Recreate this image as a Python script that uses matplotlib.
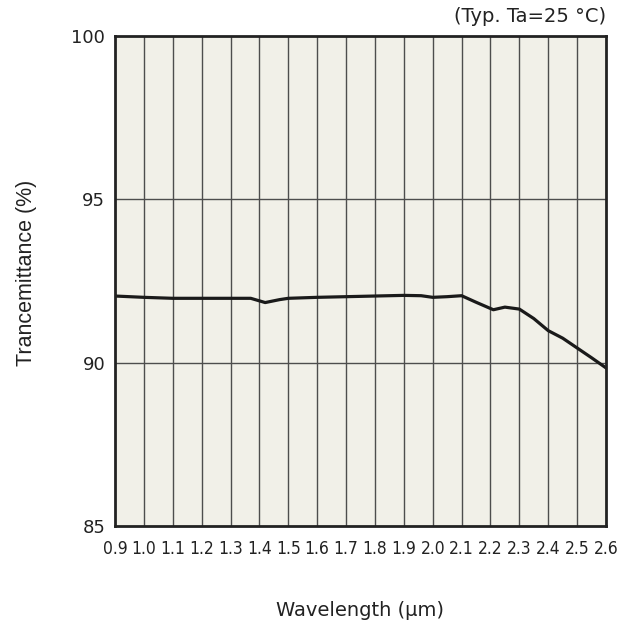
import matplotlib
matplotlib.use('Agg')
import matplotlib.pyplot as plt
import numpy as np

# wavelength (um) and transmittance (%)
wavelength = [0.90, 1.00, 1.10, 1.20, 1.30, 1.37, 1.42, 1.47, 1.50, 1.60, 1.70, 1.80, 1.90,
              1.96, 2.00, 2.05, 2.10, 2.15, 2.21, 2.25, 2.30, 2.35, 2.40, 2.45, 2.50, 2.55, 2.60]
transmittance = [92.04, 92.00, 91.97, 91.97, 91.97, 91.97, 91.84, 91.93, 91.97, 92.00, 92.02, 92.04, 92.06,
                 92.05, 92.00, 92.02, 92.05, 91.85, 91.62, 91.70, 91.64, 91.35, 90.98, 90.75, 90.45, 90.15, 89.84]

xticks = np.round(np.arange(0.9, 2.61, 0.1), 1)
yticks = [85, 90, 95, 100]

W, H = 629, 626
fig = plt.figure(figsize=(W / 100, H / 100), dpi=100)
ax = fig.add_axes([115 / W, 1 - 526 / H, 491 / W, 490 / H])
ax.set_facecolor('#f1f0e8')

ax.plot(wavelength, transmittance, color='#1a1a1a', linewidth=2.3)

ax.set_xlim(0.9, 2.6)
ax.set_ylim(85, 100)
ax.set_xticks(xticks)
ax.set_xticklabels([f'{t:.1f}' for t in xticks], family='DejaVu Sans',
                   fontstretch='condensed', fontsize=12.5, color='#222222')
ax.set_yticks(yticks)
ax.set_yticklabels([str(t) for t in yticks], fontsize=13, color='#222222')
ax.tick_params(length=0)
ax.tick_params(axis='y', pad=7)
ax.tick_params(axis='x', pad=10)

for t in xticks[1:-1]:
    ax.axvline(t, color='#4d4d4d', linewidth=1.0, zorder=1)
for t in [90, 95]:
    ax.axhline(t, color='#4d4d4d', linewidth=1.0, zorder=1)

for s in ax.spines.values():
    s.set_linewidth(2.0)
    s.set_color('#222222')

ax.set_ylabel('Trancemittance (%)', family='Liberation Sans', fontsize=15.5, color='#222222')
ax.yaxis.set_label_coords((27 - 115) / 491, (526 - 273) / 490)
ax.set_xlabel('Wavelength (µm)', fontsize=14, color='#222222')
ax.xaxis.set_label_coords(0.5, (526 - 610) / 490)
ax.xaxis.label.set_va('center')
ax.yaxis.label.set_va('center')
fig.text(606 / W, 1 - 16 / H, '(Typ. Ta=25 °C)', ha='right', va='center', fontsize=14, color='#222222')

plt.savefig('out.png', dpi=100)
